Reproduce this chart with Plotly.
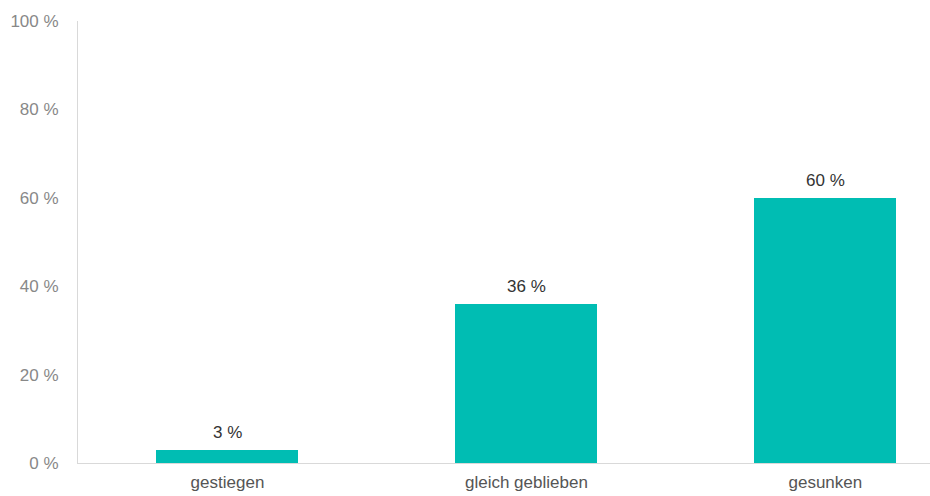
import plotly.graph_objects as go

categories = ["gestiegen", "gleich geblieben", "gesunken"]
values = [3, 36, 60]
y_ticks = [0, 20, 40, 60, 80, 100]

BAR_COLOR = "#00BDB3"
FONT = "Liberation Sans, Arial, sans-serif"

fig = go.Figure(
    go.Bar(
        x=list(range(len(categories))),
        y=values,
        width=0.475,
        marker=dict(color=BAR_COLOR, line=dict(width=0)),
        hoverinfo="skip",
    )
)

# value labels above each bar
for i, v in enumerate(values):
    fig.add_annotation(
        x=i, y=v, text=f"{v} %", showarrow=False,
        yanchor="bottom", yshift=6,
        font=dict(family=FONT, size=17, color="#333333"),
    )

fig.update_layout(
    width=930, height=496,
    margin=dict(l=78, r=0, t=21, b=33),
    paper_bgcolor="white", plot_bgcolor="white",
    showlegend=False,
    font=dict(family=FONT, size=17, color="#888888"),
    bargap=0,
)

fig.update_xaxes(
    range=[-0.5, 2.35],
    tickmode="array",
    tickvals=list(range(len(categories))),
    ticktext=categories,
    showgrid=False, zeroline=False,
    showline=True, linecolor="#d9d9d9", linewidth=1,
    ticks="", tickfont=dict(family=FONT, size=17, color="#555555"),
    ticklabelstandoff=4,
)

fig.update_yaxes(
    range=[0, 100],
    tickmode="array",
    tickvals=y_ticks,
    ticktext=[f"{t} %" for t in y_ticks],
    showgrid=False, zeroline=False,
    showline=True, linecolor="#d9d9d9", linewidth=1,
    ticks="", tickfont=dict(family=FONT, size=17, color="#888888"),
    ticklabelstandoff=15,
)

fig.write_html("out.html")
